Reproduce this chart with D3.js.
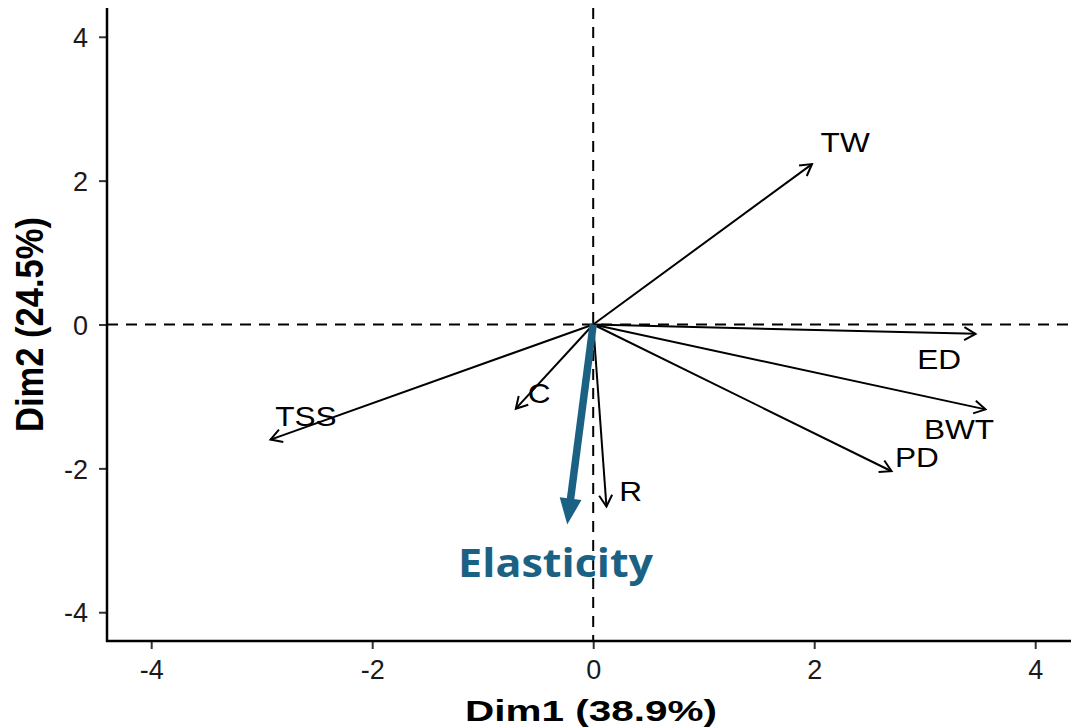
<!DOCTYPE html>
<html>
<head>
<meta charset="utf-8">
<script src="https://cdn.jsdelivr.net/npm/d3@7"></script>
<style>
    body { margin: 0; background: #ffffff; }
    svg { display: block; }
    .tick-label { font-family: "Liberation Sans", Arial, sans-serif; font-size: 27px; fill: #1a1a1a; }
    .axis-title { font-family: "Liberation Sans", Arial, sans-serif; font-size: 30px; font-weight: bold; fill: #000; }
    .var-label { font-family: "Liberation Sans", Arial, sans-serif; font-size: 27px; fill: #000; }
    .supp-label { font-family: "Open Sans", "Liberation Sans", sans-serif; font-size: 39px; font-weight: bold; fill: #1b6183; }
</style>
</head>
<body>
<svg id="chart"></svg>
<script>
// PCA variable coordinates
const varNames = ["TW", "ED", "BWT", "PD", "R", "C", "TSS"];
const dim1 = [1.98, 3.46, 3.55, 2.70, 0.12, -0.70, -2.92];
const dim2 = [2.23, -0.13, -1.18, -2.04, -2.53, -1.17, -1.60];
// where the labels sit, in data units
const labelDim1 = [2.28, 3.13, 3.31, 2.93, 0.34, -0.49, -2.60];
const labelDim2 = [2.53, -0.49, -1.46, -1.84, -2.32, -0.96, -1.27];

// supplementary variable
const suppNames = ["Elasticity"];
const suppDim1 = [-0.235];
const suppDim2 = [-2.78];
const suppLabelDim1 = [-0.34];
const suppLabelDim2 = [-3.32];

const tickValues = [-4, -2, 0, 2, 4];
const xTitle = "Dim1 (38.9%)";
const yTitle = "Dim2 (24.5%)";

const width = 1071, height = 727;
const margin = {top: 8, left: 107, bottom: 86};

const svg = d3.select("#chart")
    .attr("width", width)
    .attr("height", height);

const x = d3.scaleLinear().domain([-4.4, 4.4]).range([margin.left, margin.left + 8.8 * 110.5]);
const y = d3.scaleLinear().domain([-4.4, 4.4]).range([height - margin.bottom, margin.top]);

// dashed zero lines
svg.append("line")
    .attr("x1", x(-4.4)).attr("x2", width)
    .attr("y1", y(0)).attr("y2", y(0))
    .attr("stroke", "#000").attr("stroke-width", 2)
    .attr("stroke-dasharray", "11,8");
svg.append("line")
    .attr("x1", x(0)).attr("x2", x(0))
    .attr("y1", y(4.4)).attr("y2", y(-4.4))
    .attr("stroke", "#000").attr("stroke-width", 2)
    .attr("stroke-dasharray", "11,8");

// axes
let xAxis = svg.append("g")
    .attr("transform", "translate(0," + y(-4.4) + ")")
    .call(d3.axisBottom(x).tickValues(tickValues).tickSize(8).tickPadding(11).tickFormat(d3.format("d")));
let yAxis = svg.append("g")
    .attr("transform", "translate(" + x(-4.4) + ",0)")
    .call(d3.axisLeft(y).tickValues(tickValues).tickSize(8).tickPadding(11).tickFormat(d3.format("d")));

[xAxis, yAxis].forEach(function (g) {
    g.select(".domain").remove();
    g.selectAll(".tick line").attr("stroke", "#333").attr("stroke-width", 2);
    g.selectAll(".tick text").attr("class", "tick-label").attr("fill", null);
});
yAxis.selectAll(".tick text").attr("dy", "0.36em");
xAxis.selectAll(".tick text").attr("dy", "0.72em");
// plain hyphen minus like the original
xAxis.selectAll(".tick text").text(function (d) { return String(d); });
yAxis.selectAll(".tick text").text(function (d) { return String(d); });

// axis lines
svg.append("line")
    .attr("x1", x(-4.4)).attr("x2", x(-4.4))
    .attr("y1", y(4.4)).attr("y2", y(-4.4) + 1)
    .attr("stroke", "#000").attr("stroke-width", 2.5);
svg.append("line")
    .attr("x1", x(-4.4) - 1).attr("x2", width)
    .attr("y1", y(-4.4)).attr("y2", y(-4.4))
    .attr("stroke", "#000").attr("stroke-width", 2.5);

// axis titles
svg.append("text")
    .attr("class", "axis-title")
    .attr("x", 591).attr("y", 721)
    .attr("text-anchor", "middle")
    .attr("textLength", 252).attr("lengthAdjust", "spacingAndGlyphs")
    .text(xTitle);
svg.append("text")
    .attr("class", "axis-title")
    .attr("transform", "translate(43," + y(0) + ") scale(1.3,1) rotate(-90)")
    .attr("text-anchor", "middle")
    .attr("textLength", 215).attr("lengthAdjust", "spacingAndGlyphs")
    .text(yTitle);

// open arrow head path
function arrowHead(x0, y0, x1, y1, len, ang) {
    let a = Math.atan2(y1 - y0, x1 - x0);
    let p1 = [x1 - len * Math.cos(a - ang), y1 - len * Math.sin(a - ang)];
    let p2 = [x1 - len * Math.cos(a + ang), y1 - len * Math.sin(a + ang)];
    return "M" + p1[0] + "," + p1[1] + "L" + x1 + "," + y1 + "L" + p2[0] + "," + p2[1];
}

let vars = varNames.map(function (n, i) {
    return {name: n, x: dim1[i], y: dim2[i], lx: labelDim1[i], ly: labelDim2[i]};
});

let vg = svg.append("g");
vg.selectAll("line.vec")
    .data(vars)
    .enter().append("line")
    .attr("class", "vec")
    .attr("x1", x(0)).attr("y1", y(0))
    .attr("x2", function (d) { return x(d.x); })
    .attr("y2", function (d) { return y(d.y); })
    .attr("stroke", "#000").attr("stroke-width", 2);
vg.selectAll("path.head")
    .data(vars)
    .enter().append("path")
    .attr("class", "head")
    .attr("d", function (d) { return arrowHead(x(0), y(0), x(d.x), y(d.y), 13, Math.PI / 6); })
    .attr("fill", "none").attr("stroke", "#000").attr("stroke-width", 2);
vg.selectAll("text.var-label")
    .data(vars)
    .enter().append("text")
    .attr("class", "var-label")
    .attr("transform", function (d) { return "translate(" + x(d.lx) + "," + y(d.ly) + ") scale(1.17,1)"; })
    .attr("text-anchor", "middle")
    .attr("dy", "0.36em")
    .text(function (d) { return d.name; });

// supplementary variable, drawn thick and coloured
let supp = suppNames.map(function (n, i) {
    return {name: n, x: suppDim1[i], y: suppDim2[i], lx: suppLabelDim1[i], ly: suppLabelDim2[i]};
});
let suppColor = "#1b6183";
let sg = svg.append("g");
supp.forEach(function (d) {
    let x0 = x(0), y0 = y(0), x1 = x(d.x), y1 = y(d.y);
    let a = Math.atan2(y1 - y0, x1 - x0);
    let headLen = 26, headHalf = 11;
    let bx = x1 - headLen * Math.cos(a), by = y1 - headLen * Math.sin(a);
    sg.append("line")
        .attr("x1", x0).attr("y1", y0)
        .attr("x2", bx + 2 * Math.cos(a)).attr("y2", by + 2 * Math.sin(a))
        .attr("stroke", suppColor).attr("stroke-width", 7.5);
    let px = -Math.sin(a), py = Math.cos(a);
    sg.append("path")
        .attr("d", "M" + x1 + "," + y1 +
            "L" + (bx + headHalf * px) + "," + (by + headHalf * py) +
            "L" + (bx - headHalf * px) + "," + (by - headHalf * py) + "Z")
        .attr("fill", suppColor);
    sg.append("text")
        .attr("class", "supp-label")
        .attr("x", x(d.lx)).attr("y", y(d.ly))
        .attr("text-anchor", "middle")
        .attr("dy", "0.36em")
        .attr("textLength", 195).attr("lengthAdjust", "spacingAndGlyphs")
        .text(d.name);
});
</script>
</body>
</html>
